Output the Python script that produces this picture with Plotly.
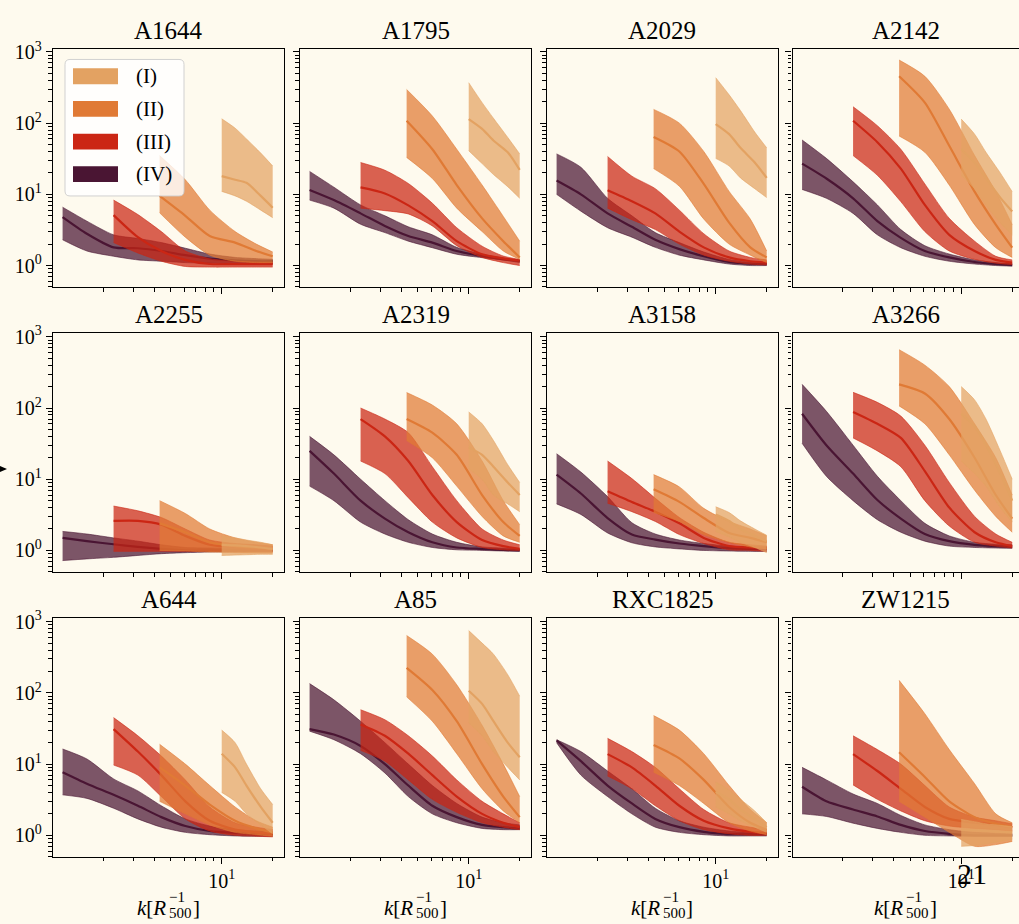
import numpy as np
import plotly.graph_objects as go

# ---------------------------------------------------------------- data
CLUSTERS = ["A1644", "A1795", "A2029", "A2142",
            "A2255", "A2319", "A3158", "A3266",
            "A644", "A85", "RXC1825", "ZW1215"]

# wavenumber sampling of each radial bin [R500^-1]
K_IV = [1.15, 1.6, 2.3, 3.2, 4.4, 6.1, 8.5, 12, 16, 20]
K_III = [2.3, 3.2, 4.4, 6.1, 8.5, 12, 16, 20]
K_II = [4.3, 6.1, 8.5, 12, 16, 20]
K_I = [10, 12, 14, 17, 20]

# bin (IV)
MED_IV = {
    "A1644": [4.8, 2.8, 1.8, 1.75, 1.6, 1.4, 1.25, 1.18, 1.15, 1.15],
    "A1795": [11.5, 8.3, 5.4, 3.6, 2.6, 2.1, 1.6, 1.36, 1.22, 1.16],
    "A2029": [15.6, 10, 5.4, 3.5, 2.3, 1.7, 1.35, 1.12, 1.06, 1.05],
    "A2142": [27, 16.7, 8.8, 4.2, 2.45, 1.6, 1.3, 1.12, 1.05, 1.02],
    "A2255": [1.5, 1.35, 1.22, 1.12, 1.05, 1.0, 1.0, 1.0, 1.0, 1.0],
    "A2319": [25, 12, 5, 2.8, 1.8, 1.3, 1.1, 1.05, 1.02, 1.0],
    "A3158": [11.6, 6.3, 2.85, 1.67, 1.42, 1.25, 1.15, 1.08, 1.05, 1.05],
    "A3266": [83, 30, 12, 5.1, 2.8, 1.7, 1.35, 1.2, 1.15, 1.12],
    "A644": [7.7, 5.3, 3.7, 2.6, 1.8, 1.35, 1.15, 1.08, 1.05, 1.05],
    "A85": [31, 26, 18, 10, 5, 2.6, 1.8, 1.4, 1.3, 1.25],
    "RXC1825": [21.5, 11, 5, 2.8, 1.7, 1.3, 1.12, 1.05, 1.05, 1.05],
    "ZW1215": [4.8, 3.0, 2.3, 1.84, 1.4, 1.15, 1.05, 1.0, 1.0, 1.0],
}
LO_IV = {
    "A1644": [2.3, 1.6, 1.35, 1.2, 1.15, 1.1, 1.08, 1.05, 1.05, 1.05],
    "A1795": [8.3, 6.4, 3.8, 2.9, 2.2, 1.78, 1.44, 1.29, 1.2, 1.1],
    "A2029": [10, 5.8, 3.4, 2.5, 1.8, 1.4, 1.2, 1.05, 1.0, 1.0],
    "A2142": [11.7, 8.8, 5.4, 2.7, 1.78, 1.35, 1.15, 1.05, 1.0, 0.98],
    "A2255": [0.72, 0.76, 0.8, 0.85, 0.9, 0.93, 0.95, 0.96, 0.97, 0.97],
    "A2319": [8, 5, 2.5, 1.7, 1.3, 1.1, 1.02, 1.0, 0.98, 0.97],
    "A3158": [4.5, 3.2, 1.76, 1.28, 1.12, 1.05, 1.0, 0.98, 0.97, 0.97],
    "A3266": [32, 11, 5, 2.7, 1.8, 1.35, 1.15, 1.1, 1.08, 1.07],
    "A644": [3.7, 3.3, 2.4, 1.7, 1.3, 1.1, 1.02, 0.98, 0.97, 0.97],
    "A85": [29, 22, 14, 7.5, 3.5, 2.0, 1.5, 1.25, 1.2, 1.2],
    "RXC1825": [20, 7, 3.5, 2.0, 1.3, 1.1, 1.02, 0.98, 0.98, 0.98],
    "ZW1215": [2.0, 1.84, 1.48, 1.25, 1.1, 1.0, 0.98, 0.97, 0.97, 0.97],
}
HI_IV = {
    "A1644": [6.6, 4.2, 2.7, 2.4, 2.1, 1.75, 1.45, 1.3, 1.25, 1.22],
    "A1795": [21, 12.6, 7.1, 5.0, 3.5, 2.7, 1.8, 1.44, 1.27, 1.2],
    "A2029": [37, 24, 8.8, 5, 2.9, 2.1, 1.55, 1.22, 1.12, 1.1],
    "A2142": [58, 32, 15, 7.1, 3.2, 1.9, 1.45, 1.2, 1.1, 1.06],
    "A2255": [1.85, 1.7, 1.5, 1.35, 1.2, 1.1, 1.08, 1.06, 1.05, 1.05],
    "A2319": [40, 22, 10, 5, 2.7, 1.7, 1.3, 1.12, 1.08, 1.05],
    "A3158": [22.8, 12.6, 5.7, 2.45, 1.7, 1.4, 1.25, 1.15, 1.12, 1.12],
    "A3266": [215, 90, 30, 11, 5, 2.4, 1.6, 1.3, 1.22, 1.2],
    "A644": [16.3, 11.8, 6.2, 4.2, 2.6, 1.7, 1.35, 1.2, 1.15, 1.12],
    "A85": [135, 80, 40, 20, 10, 5, 2.8, 1.8, 1.5, 1.4],
    "RXC1825": [22, 15, 8, 4.5, 2.4, 1.6, 1.3, 1.15, 1.1, 1.1],
    "ZW1215": [9, 6, 3.8, 2.8, 1.9, 1.4, 1.2, 1.1, 1.07, 1.05],
}

# bin (III)
MED_III = {
    "A1644": [5.1, 2.5, 1.6, 1.2, 1.05, 1.05, 1.05, 1.05],
    "A1795": [12.5, 10.3, 7.0, 4.2, 2.2, 1.44, 1.26, 1.17],
    "A2029": [11.4, 8, 5.4, 3.0, 1.8, 1.3, 1.15, 1.1],
    "A2142": [108, 54, 23, 7.1, 2.7, 1.6, 1.2, 1.1],
    "A2255": [2.6, 2.6, 2.3, 1.6, 1.2, 1.1, 1.05, 1.05],
    "A2319": [70, 40, 18, 6, 2.5, 1.4, 1.15, 1.05],
    "A3158": [6.8, 4.8, 3.5, 2.4, 1.5, 1.15, 1.1, 1.08],
    "A3266": [88, 60, 38, 13, 4, 1.8, 1.3, 1.15],
    "A644": [31, 15, 7, 3, 1.6, 1.2, 1.1, 1.05],
    "A85": [36, 25, 14, 7, 3.5, 2.0, 1.5, 1.3],
    "RXC1825": [13.8, 9, 5, 2.6, 1.6, 1.25, 1.12, 1.08],
    "ZW1215": [13.8, 8, 4.5, 2.5, 1.7, 1.5, 1.4, 1.3],
}
LO_III = {
    "A1644": [2.1, 1.5, 1.15, 0.97, 0.95, 0.95, 0.95, 0.95],
    "A1795": [6.4, 5.9, 5.3, 3.6, 1.9, 1.3, 1.1, 1.0],
    "A2029": [6.4, 4.4, 3.2, 2.0, 1.4, 1.15, 1.05, 1.02],
    "A2142": [35, 18.5, 7.9, 3.0, 1.6, 1.22, 1.08, 1.03],
    "A2255": [0.97, 0.97, 0.97, 0.97, 0.97, 0.97, 0.97, 0.97],
    "A2319": [18, 12, 5.5, 2.5, 1.5, 1.1, 1.02, 1.0],
    "A3158": [4.6, 3.5, 2.55, 1.67, 1.25, 1.02, 1.0, 0.97],
    "A3266": [38, 25, 15, 5, 2.2, 1.3, 1.15, 1.08],
    "A644": [9.7, 7, 3.5, 1.7, 1.15, 1.0, 0.97, 0.95],
    "A85": [15.6, 11, 6, 3.2, 2.1, 1.5, 1.3, 1.2],
    "RXC1825": [6.8, 4.5, 2.6, 1.6, 1.2, 1.05, 1.0, 1.0],
    "ZW1215": [5.1, 3.2, 2.2, 1.6, 1.35, 1.25, 1.2, 1.15],
}
HI_III = {
    "A1644": [8.3, 5.2, 3.0, 1.6, 1.25, 1.15, 1.12, 1.12],
    "A1795": [28, 21.8, 14.2, 7.5, 3.4, 1.87, 1.36, 1.22],
    "A2029": [34, 18, 12, 6, 2.8, 1.6, 1.3, 1.2],
    "A2142": [170, 92, 43, 14, 4.6, 2.2, 1.35, 1.2],
    "A2255": [4.2, 3.6, 2.9, 2.0, 1.4, 1.25, 1.2, 1.15],
    "A2319": [100, 70, 45, 15, 5, 2.0, 1.4, 1.2],
    "A3158": [18, 10.2, 5.4, 2.9, 1.8, 1.3, 1.2, 1.15],
    "A3266": [166, 120, 77, 30, 9, 3.0, 1.7, 1.3],
    "A644": [45, 25, 13, 6, 2.5, 1.5, 1.3, 1.2],
    "A85": [58, 42, 25, 13, 6, 3.0, 2.0, 1.5],
    "RXC1825": [23, 15, 9, 4.5, 2.3, 1.5, 1.3, 1.2],
    "ZW1215": [25, 16, 10, 5, 2.5, 1.8, 1.6, 1.45],
}

# bin (II)
MED_II = {
    "A1644": [9.5, 5, 2.6, 2.1, 1.6, 1.35],
    "A1795": [108, 43, 13.5, 4.6, 2.2, 1.3],
    "A2029": [64, 40, 14, 4, 1.8, 1.3],
    "A2142": [455, 194, 48, 10.9, 3.75, 1.78],
    "A2255": [2.4, 1.8, 1.3, 1.15, 1.1, 1.05],
    "A2319": [70, 45, 22, 6, 2.5, 1.6],
    "A3158": [7.2, 4.8, 2.85, 1.76, 1.5, 1.3],
    "A3266": [215, 160, 70, 20, 6, 2.8],
    "A644": [9, 5, 2.7, 1.6, 1.25, 1.1],
    "A85": [225, 110, 40, 10, 3.5, 1.8],
    "RXC1825": [18.5, 12, 6, 2.5, 1.5, 1.2],
    "ZW1215": [14.7, 6.6, 3.0, 1.8, 1.45, 1.3],
}
LO_II = {
    "A1644": [5.5, 2.5, 1.4, 1.15, 1.1, 1.1],
    "A1795": [33, 16.7, 6.4, 3.0, 1.6, 1.22],
    "A2029": [23, 13, 4.5, 2.0, 1.4, 1.1],
    "A2142": [66, 39, 13.5, 3.75, 1.78, 1.3],
    "A2255": [1.0, 0.98, 0.95, 0.93, 0.92, 0.92],
    "A2319": [35, 20, 8, 3, 1.6, 1.3],
    "A3158": [3.4, 2.55, 1.67, 1.3, 1.12, 1.05],
    "A3266": [107, 60, 22, 7, 3, 1.8],
    "A644": [3, 2, 1.4, 1.1, 1.02, 0.97],
    "A85": [88, 40, 14, 4.5, 2.2, 1.5],
    "RXC1825": [7.7, 5, 2.8, 1.5, 1.15, 1.02],
    "ZW1215": [3.0, 1.8, 1.1, 0.7, 0.74, 0.82],
}
HI_II = {
    "A1644": [35, 16, 6, 3.0, 2.0, 1.55],
    "A1795": [297, 126, 43, 13.5, 4.9, 2.2],
    "A2029": [156, 100, 40, 11, 4.5, 1.6],
    "A2142": [770, 455, 157, 35, 10.9, 3.75],
    "A2255": [5.0, 3.3, 2.0, 1.5, 1.3, 1.2],
    "A2319": [165, 110, 60, 18, 5, 2.3],
    "A3158": [11.6, 7.8, 3.9, 2.55, 2.0, 1.6],
    "A3266": [660, 400, 200, 60, 20, 6],
    "A644": [19, 10, 5, 2.5, 1.6, 1.3],
    "A85": [640, 350, 130, 35, 10, 3.5],
    "RXC1825": [48, 30, 14, 5, 2.3, 1.5],
    "ZW1215": [150, 51, 16, 5.3, 2.0, 1.5],
}

# bin (I)
MED_I = {
    "A1644": [18, 16, 14.5, 9.5, 6.5],
    "A1795": [114, 83, 57, 39, 22],
    "A2029": [97, 70, 45, 28, 17],
    "A2142": [43, 28, 16.7, 9, 5.75],
    "A2255": [1.2, 1.18, 1.15, 1.1, 1.05],
    "A2319": [28, 22, 15, 9, 6],
    "A3158": [3.2, 2.6, 2.0, 1.6, 1.35],
    "A3266": [83, 55, 30, 12, 5],
    "A644": [14, 9, 5, 2.5, 1.5],
    "A85": [107, 70, 40, 20, 12.5],
    "RXC1825": [4.1, 3.2, 2.3, 1.7, 1.3],
    "ZW1215": [1.2, 1.18, 1.15, 1.12, 1.1],
}
LO_I = {
    "A1644": [11, 9.5, 8, 6, 4.7],
    "A1795": [41, 27, 19, 12.8, 8.8],
    "A2029": [32, 25, 17, 12, 9],
    "A2142": [18.5, 12, 7.1, 4, 2.7],
    "A2255": [0.85, 0.86, 0.87, 0.88, 0.88],
    "A2319": [14, 10, 6, 4.5, 3.5],
    "A3158": [1.85, 1.55, 1.3, 1.1, 0.93],
    "A3266": [18, 12, 8, 4, 2.5],
    "A644": [4, 3, 2, 1.4, 1.05],
    "A85": [38, 25, 15, 9, 6],
    "RXC1825": [2.5, 2.0, 1.6, 1.3, 1.1],
    "ZW1215": [0.7, 0.72, 0.76, 0.82, 0.88],
}
HI_I = {
    "A1644": [115, 85, 60, 38, 25],
    "A1795": [370, 194, 117, 63, 37],
    "A2029": [435, 250, 150, 75, 45],
    "A2142": [114, 70, 39, 20, 10.9],
    "A2255": [1.6, 1.5, 1.4, 1.3, 1.2],
    "A2319": [88, 60, 35, 16, 9],
    "A3158": [4.1, 3.4, 2.6, 2.0, 1.63],
    "A3266": [200, 130, 70, 25, 10],
    "A644": [30, 20, 10, 4.5, 2.7],
    "A85": [750, 500, 350, 180, 90],
    "RXC1825": [5.6, 4.3, 3.2, 2.2, 1.5],
    "ZW1215": [1.67, 1.55, 1.45, 1.38, 1.33],
}

BIN_LABELS = ["(I)", "(II)", "(III)", "(IV)"]
BIN_COLORS = {"(I)": (227, 162, 98), "(II)": (224, 122, 53),
              "(III)": (203, 38, 20), "(IV)": (74, 21, 51)}

Y_TICKS = [1, 10, 100, 1000]
Y_TICKTEXT = ["10<sup>0</sup>", "10<sup>1</sup>", "10<sup>2</sup>", "10<sup>3</sup>"]
X_TICKS = [10]
X_TICKTEXT = ["10<sup>1</sup>"]

# ---------------------------------------------------------------- layout
W, H = 1019, 924
BG = "#fefaee"
SERIF = "Liberation Serif, DejaVu Serif, serif"

COL_PX = [(53, 284), (300, 531), (547, 777.5), (792.5, 1019)]
ROW_PX = [(39, 280), (327, 568), (615, 856)]
PX_PER_DEC_X = 169.4
X_LEFT_LOG = 0.0041
Y_RANGE = [np.log10(0.5), 3.047]
SMOOTH = 0.7


def fx(p):
    return p / W


def fy(p):
    return 1 - p / H


def rgba(c, a):
    return f"rgba({c[0]},{c[1]},{c[2]},{a})"


fig = go.Figure()

series = [
    ("(IV)", K_IV, MED_IV, LO_IV, HI_IV),
    ("(III)", K_III, MED_III, LO_III, HI_III),
    ("(II)", K_II, MED_II, LO_II, HI_II),
    ("(I)", K_I, MED_I, LO_I, HI_I),
]

layout_axes = {}
annotations = []
for i, name in enumerate(CLUSTERS):
    r, c = divmod(i, 4)
    n = "" if i == 0 else str(i + 1)
    xa, ya = "x" + n, "y" + n
    x0, x1 = COL_PX[c]
    y0, y1 = ROW_PX[r]

    for lab, k, med, lo, hi in series:
        col = BIN_COLORS[lab]
        edge = dict(color=rgba(col, 0.72), width=0.8, shape="spline", smoothing=SMOOTH)
        # lower edge, then upper edge filled down to it
        fig.add_trace(go.Scatter(
            x=k, y=lo[name], mode="lines", line=edge,
            xaxis=xa, yaxis=ya, showlegend=False, hoverinfo="skip"))
        fig.add_trace(go.Scatter(
            x=k, y=hi[name], mode="lines", line=edge,
            fill="tonexty", fillcolor=rgba(col, 0.72),
            xaxis=xa, yaxis=ya, showlegend=False, hoverinfo="skip"))
        fig.add_trace(go.Scatter(
            x=k, y=med[name], mode="lines",
            line=dict(color=rgba(col, 1), width=2.2, shape="spline", smoothing=SMOOTH),
            xaxis=xa, yaxis=ya, showlegend=False))

    x_span = (x1 - x0) / PX_PER_DEC_X
    layout_axes["xaxis" + n] = dict(
        type="log", domain=[fx(x0), fx(x1)], anchor=ya,
        range=[X_LEFT_LOG, X_LEFT_LOG + x_span],
        showline=True, linecolor="black", linewidth=1.3, mirror=True,
        ticks="outside", ticklen=6, tickwidth=1.2, tickcolor="black",
        tickvals=X_TICKS, ticktext=X_TICKTEXT,
        showticklabels=(r == 2),
        tickfont=dict(family=SERIF, size=20, color="black"),
        minor=dict(ticks="outside", ticklen=3.5, tickwidth=1, tickcolor="black",
                   tickvals=[2, 3, 4, 5, 6, 7, 8, 9, 20]),
        showgrid=False, zeroline=False)
    layout_axes["yaxis" + n] = dict(
        type="log", domain=[fy(y1), fy(y0)], anchor=xa,
        range=Y_RANGE,
        showline=True, linecolor="black", linewidth=1.3,
        mirror=(c != 3),
        ticks="outside", ticklen=6, tickwidth=1.2, tickcolor="black",
        tickvals=Y_TICKS, ticktext=Y_TICKTEXT,
        showticklabels=(c == 0),
        tickfont=dict(family=SERIF, size=20, color="black"),
        minor=dict(ticks="outside", ticklen=3.5, tickwidth=1, tickcolor="black",
                   tickvals=[0.5, 0.6, 0.7, 0.8, 0.9] + [m * d for d in (1, 10, 100) for m in range(2, 10)]),
        showgrid=False, zeroline=False)

    # panel title
    cx = (x0 + min(x1, x0 + 231)) / 2
    annotations.append(dict(
        text=name, x=fx(cx), y=fy(y0), xref="paper", yref="paper",
        xanchor="center", yanchor="bottom", yshift=3, showarrow=False,
        font=dict(family=SERIF, size=25, color="black")))

    # x-axis label below the bottom row:  k[R^{-1}_{500}]
    if r == 2:
        annotations += [
            dict(text="<i>k</i>[<i>R</i>", x=fx(cx - 0.5), y=fy(908), font_size=21,
                 xanchor="right", yanchor="middle"),
            dict(text="\u22121", x=fx(cx - 1.5), y=fy(897), font_size=15,
                 xanchor="left", yanchor="middle"),
            dict(text="500", x=fx(cx - 1.5), y=fy(913), font_size=15,
                 xanchor="left", yanchor="middle"),
            dict(text="]", x=fx(cx + 22), y=fy(908), font_size=21,
                 xanchor="left", yanchor="middle"),
        ]
        for a in annotations[-4:]:
            a.update(xref="paper", yref="paper", showarrow=False)
            a["font"] = dict(family=SERIF, size=a.pop("font_size"), color="black")

# ---------------------------------------------------------------- legend (panel A1644)
shapes = []
lx0, lx1, ly0, ly1, rad = 65, 184, 50, 188, 5
path = (f"M {fx(lx0 + rad)},{fy(ly0)} L {fx(lx1 - rad)},{fy(ly0)} "
        f"Q {fx(lx1)},{fy(ly0)} {fx(lx1)},{fy(ly0 + rad)} "
        f"L {fx(lx1)},{fy(ly1 - rad)} Q {fx(lx1)},{fy(ly1)} {fx(lx1 - rad)},{fy(ly1)} "
        f"L {fx(lx0 + rad)},{fy(ly1)} Q {fx(lx0)},{fy(ly1)} {fx(lx0)},{fy(ly1 - rad)} "
        f"L {fx(lx0)},{fy(ly0 + rad)} Q {fx(lx0)},{fy(ly0)} {fx(lx0 + rad)},{fy(ly0)} Z")
shapes.append(dict(type="path", path=path, xref="paper", yref="paper",
                   fillcolor="rgba(255,255,255,0.8)",
                   line=dict(color="rgba(204,204,204,0.9)", width=1), layer="above"))
for j, lab in enumerate(BIN_LABELS):
    yc = 67 + 33 * j
    shapes.append(dict(type="rect", xref="paper", yref="paper",
                       x0=fx(73), x1=fx(118), y0=fy(yc + 8), y1=fy(yc - 8),
                       fillcolor=rgba(BIN_COLORS[lab], 1), line=dict(width=0),
                       layer="above"))
    annotations.append(dict(text=lab, x=fx(134), y=fy(yc), xref="paper", yref="paper",
                            xanchor="left", yanchor="middle", showarrow=False,
                            font=dict(family=SERIF, size=21, color="black")))

# arrow head of the shared y label at the left edge
shapes.append(dict(type="path", xref="paper", yref="paper",
                   path=f"M {fx(0)},{fy(461)} L {fx(7)},{fy(464)} L {fx(0)},{fy(467)} Z",
                   fillcolor="black", line=dict(width=0), layer="above"))

# page number
annotations.append(dict(text="21", x=fx(972), y=fy(873), xref="paper", yref="paper",
                        xanchor="center", yanchor="middle", showarrow=False,
                        font=dict(family=SERIF, size=30, color="black")))

fig.update_layout(
    width=W, height=H, autosize=False,
    margin=dict(l=0, r=0, t=0, b=0, pad=0),
    paper_bgcolor=BG, plot_bgcolor=BG,
    showlegend=False, annotations=annotations, shapes=shapes,
    **layout_axes)

fig.write_html("out.html")
